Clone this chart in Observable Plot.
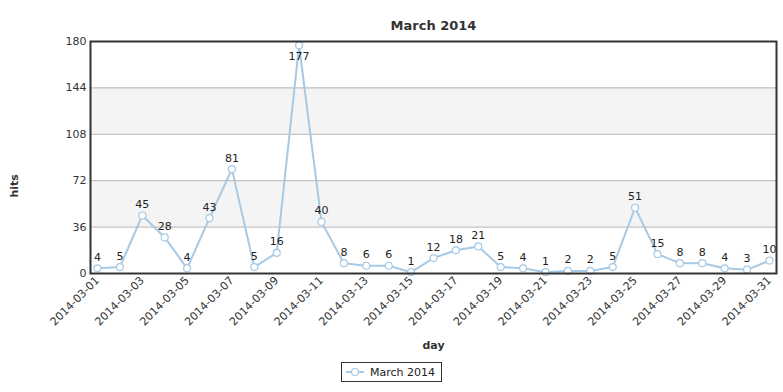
<!DOCTYPE html>
<html><head><meta charset="utf-8">
<script src="https://cdn.jsdelivr.net/npm/d3@7"></script>
<script src="https://cdn.jsdelivr.net/npm/@observablehq/plot@0.6"></script>
<style>
body{margin:0;background:#fff;font-family:"DejaVu Sans",Verdana,sans-serif;}
#chart svg{display:block;}
#legend{display:flex;justify-content:center;margin-top:6px;}
#legend .box{display:flex;align-items:center;border:1px solid #333;height:18px;padding:0 6px 0 4px;font-size:11px;color:#222;}
</style>
</head><body>
<div id="chart"></div>
<div id="legend"><div class="box"><svg width="18" height="10" style="margin-right:6px"><line x1="0" y1="5" x2="18" y2="5" stroke="#a6c9e5" stroke-width="2"/><circle cx="9" cy="5" r="3.5" fill="#fff" stroke="#a6c9e5" stroke-width="1.2"/></svg><span>March 2014</span></div></div>
<script>
const days = ["2014-03-01","2014-03-02","2014-03-03","2014-03-04","2014-03-05","2014-03-06","2014-03-07","2014-03-08","2014-03-09","2014-03-10","2014-03-11","2014-03-12","2014-03-13","2014-03-14","2014-03-15","2014-03-16","2014-03-17","2014-03-18","2014-03-19","2014-03-20","2014-03-21","2014-03-22","2014-03-23","2014-03-24","2014-03-25","2014-03-26","2014-03-27","2014-03-28","2014-03-29","2014-03-30","2014-03-31"];
const hits = [4,5,45,28,4,43,81,5,16,177,40,8,6,6,1,12,18,21,5,4,1,2,2,5,51,15,8,8,4,3,10];
const yTicks = [0,36,72,108,144,180];
const bands = [[108,144],[36,72]];
const xTickLabels = days.filter((d,i)=>i%2===0);
const seriesName = "March 2014";

const parse = d3.utcParse("%Y-%m-%d");
const data = days.map((d,i)=>({day:parse(d), hits:hits[i]}));
const xTicks = xTickLabels.map(parse);
const bandData = bands.map(([a,b])=>({a,b}));
const color = "#a6c9e5";
const font = "DejaVu Sans, Verdana, sans-serif";

const chart = Plot.plot({
  width: 783,
  height: 356,
  marginLeft: 90,
  marginRight: 7,
  marginTop: 41,
  marginBottom: 83,
  style: {fontFamily: font, fontSize: "11px", color: "#333", background: "#fff"},
  x: {type: "utc", domain: [data[0].day, data[data.length-1].day], inset: 7, label: null},
  y: {domain: [0,180], label: null},
  marks: [
    Plot.rectY(bandData, {y1:"a", y2:"b", fill:"#f4f4f4"}),
    Plot.ruleY(yTicks, {stroke:"#b3b3b3", strokeWidth:1}),
    Plot.axisY({ticks: yTicks, tickSize:0, tickPadding:4, label:null, fontSize:11, fill:"#333"}),
    Plot.axisX({ticks: xTicks, tickFormat: d3.utcFormat("%Y-%m-%d"), tickSize:0, tickPadding:5, tickRotate:-45, label:null, fontSize:11, fill:"#333"}),
    Plot.line(data, {x:"day", y:"hits", stroke:color, strokeWidth:2}),
    Plot.dot(data, {x:"day", y:"hits", r:3.5, fill:"#fff", stroke:color, strokeWidth:1.2}),
    Plot.text(data.filter(d=>d.hits<170), {x:"day", y:"hits", text:d=>String(d.hits), dy:-11, fontSize:11, fill:"#222"}),
    Plot.text(data.filter(d=>d.hits>=170), {x:"day", y:"hits", text:d=>String(d.hits), dy:11, fontSize:11, fill:"#222"}),
    Plot.frame({stroke:"#333", strokeWidth:2}),
    Plot.text([seriesName], {frameAnchor:"top", dy:-21, fontSize:13, fontWeight:"bold", fill:"#333"}),
    Plot.text(["hits"], {frameAnchor:"left", dx:-76, dy:40, rotate:-90, fontSize:11, fontWeight:"bold", fill:"#333"}),
    Plot.text(["day"], {frameAnchor:"bottom", dy:75, fontSize:11, fontWeight:"bold", fill:"#333"})
  ]
});
document.getElementById("chart").appendChild(chart);
</script>
</body></html>
